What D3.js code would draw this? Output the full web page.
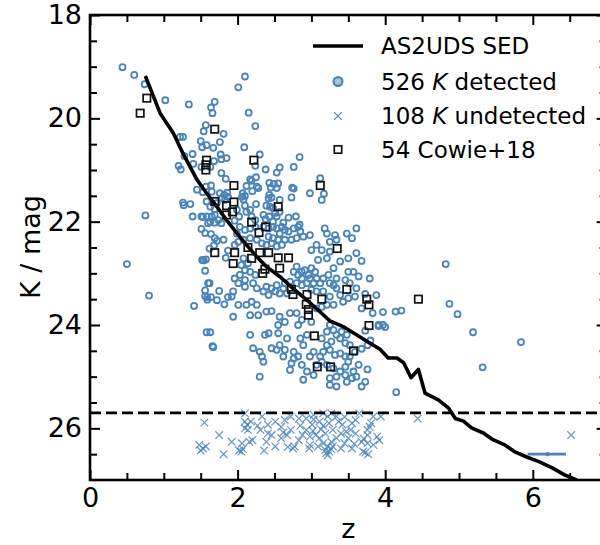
<!DOCTYPE html>
<html>
<head>
<meta charset="utf-8">
<script src="https://cdn.jsdelivr.net/npm/d3@7"></script>
<style>
  body { margin: 0; background: #fff; }
  text { font-family: "DejaVu Sans", sans-serif; fill: #000; }
</style>
</head>
<body>
<svg id="chart" width="600" height="545"></svg>
<script>
// ---- data ----
var xMajor = [0, 2, 4, 6];
var xMinor = [0.5, 1, 1.5, 2.5, 3, 3.5, 4.5, 5, 5.5, 6.5];
var yMajor = [18, 20, 22, 24, 26];
var yMinor = [18.5, 19, 19.5, 20.5, 21, 21.5, 22.5, 23, 23.5, 24.5, 25, 25.5, 26.5];

var kLimit = 25.7;

// AS2UDS SED track
var sedZ = [0.75, 0.95, 1.13, 1.26, 1.45, 1.58, 1.72, 1.85, 1.99, 2.12, 2.26, 2.39, 2.57, 2.75, 2.94, 3.09, 3.25, 3.43, 3.61, 3.79, 3.93, 4.04, 4.16, 4.25, 4.35, 4.45, 4.54, 4.72, 4.86, 4.95, 5.06, 5.17, 5.33, 5.46, 5.62, 5.75, 5.91, 6.09, 6.27, 6.43, 6.59, 6.70];
var sedK = [19.18, 19.90, 20.29, 20.68, 21.19, 21.45, 21.71, 21.97, 22.22, 22.45, 22.68, 22.87, 23.06, 23.29, 23.52, 23.71, 23.92, 24.03, 24.19, 24.35, 24.47, 24.64, 24.64, 24.73, 25.02, 24.86, 25.32, 25.45, 25.61, 25.81, 25.86, 25.99, 26.09, 26.22, 26.32, 26.45, 26.55, 26.65, 26.77, 26.90, 27.00, 27.08];

// K detected [z, K]
var detected = [
  [0.44,19.01],[0.60,19.16],[0.74,19.34],[1.02,19.65],[1.34,19.73],[1.69,19.68],[1.64,19.79],[1.66,19.90],
  [1.57,20.13],[1.54,20.25],[1.81,20.30],[1.76,20.46],[1.22,20.36],[1.26,20.36],[1.50,20.44],[1.58,20.52],
  [1.52,20.56],[1.67,20.57],[1.39,20.69],[1.28,20.73],[1.77,20.70],[1.85,20.77],[1.78,20.79],[1.68,20.83],
  [1.40,20.88],[1.20,20.92],[1.23,20.99],[1.51,20.94],[1.63,20.94],[1.78,21.06],[1.84,21.17],[1.64,21.30],
  [1.57,21.32],[1.45,21.38],[1.53,21.43],[1.65,21.42],[1.76,21.45],[1.82,21.48],[1.86,21.44],[1.87,21.52],
  [1.79,21.54],[1.83,21.58],[1.26,21.63],[1.27,21.68],[1.36,21.66],[1.58,21.61],[1.63,21.71],[1.72,21.64],
  [1.69,21.76],[0.75,21.88],[1.39,21.90],[1.51,21.90],[1.58,21.90],[1.65,21.90],[1.69,21.87],[1.74,21.97],
  [1.63,22.00],[1.69,22.02],[1.78,22.03],
  [2.10,19.19],[2.01,19.40],[2.15,19.89],[2.24,20.15],[2.09,20.56],[2.30,20.70],[2.24,20.92],[2.38,20.99],
  [2.57,20.95],[2.53,21.05],[2.76,20.94],[2.84,20.75],[2.17,21.18],[2.19,21.21],[2.25,21.14],[2.12,21.31],
  [2.28,21.35],[2.26,21.32],[2.20,21.41],[2.43,21.25],[2.49,21.27],[2.55,21.26],[2.45,21.34],[2.53,21.35],
  [2.74,21.34],[2.76,21.36],[3.12,21.16],[2.98,21.45],[3.17,21.46],[3.14,21.58],[2.73,21.53],[2.07,21.45],
  [2.10,21.50],[2.06,21.52],[2.08,21.57],[2.43,21.48],[2.46,21.53],[2.42,21.55],[2.57,21.58],[2.25,21.66],
  [2.39,21.69],[2.44,21.71],[2.48,21.74],[2.10,21.69],[2.17,21.77],[2.12,21.81],[1.99,21.77],[2.57,21.81],
  [2.51,21.83],[2.53,21.90],[2.35,21.87],[2.38,21.95],[2.43,21.90],[2.19,21.90],[2.24,21.97],[2.69,21.92],
  [2.79,21.90],[2.84,22.06],[2.02,21.90],[1.96,21.98],[2.48,22.00],[2.62,22.02],
  [2.03,22.10],[2.10,22.16],[1.99,22.23],[2.17,22.13],[2.24,22.10],[2.35,22.10],[2.42,22.13],[2.48,22.10],
  [2.53,22.13],[2.60,22.10],[2.64,22.16],[2.57,22.23],[2.69,22.19],[2.76,22.13],[2.82,22.10],[2.85,22.19],
  [2.89,22.29],[2.98,22.26],[2.80,22.32],[2.73,22.35],[2.64,22.35],[2.48,22.32],[2.42,22.29],[2.55,22.35],
  [2.46,22.42],[2.60,22.45],[2.53,22.48],[2.39,22.45],[2.33,22.42],[2.26,22.35],[2.17,22.32],[2.08,22.35],
  [2.01,22.39],[1.96,22.45],[3.18,22.13],[3.21,22.23],[3.32,22.26],[3.34,22.35],[3.25,22.39],[3.07,22.45],
  [3.00,22.55],[3.14,22.55],[3.48,22.23],[3.61,22.13],[3.55,22.32],[3.61,22.61],[3.50,22.71],[3.25,22.58],
  [3.21,22.71],[3.09,22.74],[3.39,22.77],[3.30,22.90],[3.23,23.03],[3.16,23.10],[3.12,23.19],[3.05,22.97],
  [3.00,22.90],[2.96,23.03],[2.91,22.94],[2.87,22.97],[2.80,22.87],[2.76,22.97],[2.82,23.03],[2.87,23.10],
  [2.98,23.10],[3.07,23.10],[3.03,23.19],[2.94,23.19],[2.87,23.23],[2.80,23.19],[2.71,23.16],[2.64,23.19],
  [2.62,23.29],[2.53,23.23],[2.46,23.29],[2.39,23.26],[2.51,23.35],[2.57,23.39],[2.67,23.39],[2.42,23.42],
  [2.35,23.35],[2.26,23.29],[2.21,23.19],[2.24,23.03],[2.17,22.97],[2.10,22.94],[2.05,22.84],[2.14,22.81],
  [2.08,22.71],[2.03,23.03],[1.96,23.10],[2.10,23.13],[2.01,23.19],[2.10,23.26],[1.94,23.35],[1.92,23.45],
  [2.01,23.61],[2.12,23.61],[2.19,23.55],[2.26,23.61],[1.94,23.84],[2.17,23.81],[2.28,23.81],[2.39,23.74],
  [2.46,23.73],[2.57,23.84],[2.71,23.77],[2.55,24.00],[2.64,23.94],[2.80,23.77],[2.82,24.00],[2.87,23.90],
  [3.00,23.94],[3.07,23.68],[3.14,23.65],[3.21,23.61],[3.30,23.61],[3.25,23.45],[3.16,23.35],[3.07,23.35],
  [3.00,23.32],[3.34,23.29],[3.30,23.23],[3.39,23.42],[3.43,23.55],[3.50,23.48],[3.59,23.45],[3.61,23.29],
  [3.52,23.19],[3.46,23.13],[3.57,22.97],[3.64,23.06],[3.50,22.97],[3.34,23.10],[3.25,23.19],
  [2.17,24.19],[2.37,24.19],[2.42,24.16],[2.55,24.16],[2.67,24.26],[2.57,24.39],[2.64,24.48],[2.53,24.48],
  [2.46,24.45],[2.21,24.45],[2.30,24.52],[2.33,24.61],[2.35,24.71],[2.62,24.61],[2.76,24.52],[2.76,24.65],
  [2.73,24.74],[2.71,24.87],[2.87,24.77],[2.98,24.61],[3.03,24.52],[3.12,24.61],[3.16,24.52],[2.89,24.39],
  [2.85,24.26],[2.94,24.19],[3.14,24.26],[3.21,24.13],[3.25,24.00],[3.30,24.10],[3.34,24.19],[3.41,24.13],
  [3.48,24.19],[3.39,24.26],[3.46,24.35],[3.52,24.39],[3.27,24.32],[3.21,24.39],[3.25,24.48],[3.32,24.58],
  [3.39,24.55],[3.46,24.61],[3.50,24.71],[3.46,24.81],[3.39,24.90],[3.30,24.84],[3.21,24.77],[3.14,24.71],
  [3.07,24.77],[3.03,24.97],[3.25,25.03],[3.34,25.00],[3.46,24.97],[2.89,25.06],[2.94,24.90],[2.82,24.61],
  [2.30,25.00],[3.48,25.10],[3.55,25.03],[3.25,25.16],[3.34,25.19],[3.59,24.52],[3.52,24.61],[3.64,24.77],
  [3.57,24.90],[3.61,25.00],
  [1.51,22.14],[1.64,22.24],[1.69,22.32],[1.72,22.37],[1.81,22.35],[1.62,22.52],[1.68,22.46],[1.87,22.56],
  [1.84,22.70],[1.54,22.75],[1.57,22.73],[0.50,22.82],[1.56,22.95],[1.62,23.19],[1.56,23.33],[1.75,23.34],
  [1.56,23.44],[1.64,23.46],[1.59,23.51],[1.87,23.46],[1.82,23.60],[0.80,23.43],[1.41,23.63],[1.58,24.14],
  [1.66,24.41],[1.53,21.91],[1.60,22.03],[1.56,22.22],[1.52,22.74],[1.60,23.19],[1.59,23.46],[1.72,23.52],
  [1.63,24.14],[1.67,24.43],
  [3.68,22.76],[4.82,22.82],[3.79,23.10],[3.73,23.40],[3.88,23.42],[3.68,23.68],[3.83,23.77],[3.97,23.75],
  [4.14,23.74],[4.22,23.72],[4.87,23.59],[4.98,23.79],[3.91,24.00],[4.00,24.04],[3.73,24.11],[5.19,24.14],
  [3.80,24.30],[3.76,24.39],[3.68,24.46],[3.76,24.86],[5.32,24.82],[3.73,25.10],[3.68,25.19],[5.84,24.33],
  [4.15,25.30],[3.97,24.00],[3.91,24.02]
];

// K undetected [z, K]
var undetected = [
  [1.55,25.89],[1.48,26.32],[1.53,26.39],[1.50,26.43],[1.75,26.13],[1.81,26.50],[1.92,26.26],[2.02,26.43],
  [2.06,26.29],[2.16,26.26],[2.05,26.45],[2.36,26.43],[2.39,26.26],[2.10,25.87],[2.13,25.93],[2.18,25.87],
  [2.10,26.00],[2.14,26.03],[2.31,26.03],[2.33,25.77],[2.41,25.93],[2.51,25.87],[2.59,25.97],[2.62,26.08],
  [2.67,26.13],[2.72,26.03],[2.75,26.39],[2.77,26.35],[2.83,26.23],[2.88,26.13],[2.93,26.03],[2.97,26.39],
  [2.98,26.32],[3.01,25.93],[3.03,25.83],[3.11,25.87],[3.16,25.95],[3.19,26.10],[3.22,25.77],[3.24,25.90],
  [3.29,26.03],[3.34,25.77],[3.37,25.87],[3.42,25.93],[3.16,26.29],[3.22,26.35],[3.19,26.42],[3.24,26.45],
  [3.22,26.52],[3.27,26.26],[3.34,26.19],[3.40,26.39],[3.45,26.29],[3.50,26.19],[3.53,26.03],[3.55,25.90],
  [3.60,25.84],[3.47,26.06],[3.70,26.45],[3.73,26.47],[3.77,26.50],[3.76,26.03],[3.79,25.97],[3.81,25.90],
  [3.89,26.16],[3.92,26.23],[3.76,26.29],[3.84,25.77],[3.94,25.77],[3.27,25.71],[2.72,25.77],[2.83,25.81],
  [2.93,25.81],[3.03,25.74],[3.16,25.71],[2.51,26.35],[2.59,26.19],[2.46,26.13],[4.44,25.81],[6.52,26.13],
  [2.10,25.71],[3.65,25.71],[3.09,26.35],[3.06,26.13],[2.20,26.23],[2.41,26.10],[2.64,25.84],[2.98,26.16],
  [3.11,26.19],[3.29,26.35],[3.40,26.10],[3.60,26.10],[3.68,26.26],[3.76,26.13],[3.84,26.32],[3.55,26.39],
  [1.57,26.35],[2.07,26.40],[3.20,26.48],[3.27,26.40],[2.68,26.36],[3.02,26.05],[3.45,25.78],[2.27,25.95],
  [3.58,26.30],[2.85,25.95],[3.13,26.02],[3.71,26.20]
];

// Cowie+18 [z, K]
var cowie = [
  [0.77,19.61],[0.68,19.90],[1.69,20.21],[1.58,20.81],[1.57,20.90],[1.57,21.00],[1.69,21.61],[1.85,21.69],
  [1.95,21.30],[2.22,20.81],[1.95,21.62],[1.93,21.81],[2.55,21.71],[2.19,22.01],[2.38,22.10],[2.29,22.21],
  [3.12,21.30],[3.35,22.52],[2.14,22.50],[2.30,22.60],[2.42,22.60],[2.55,22.70],[2.69,22.70],[1.69,22.60],
  [1.96,22.60],[1.94,22.81],[2.19,22.71],[2.57,22.90],[2.37,22.92],[2.34,23.00],[2.73,23.31],[2.75,23.41],
  [2.94,23.41],[3.14,23.50],[3.48,23.31],[3.75,23.50],[3.78,23.61],[4.45,23.50],[2.93,23.60],[2.96,23.70],
  [2.96,23.81],[3.78,24.01],[3.04,24.21],[3.57,24.50],[3.08,24.81],[3.26,24.81],[1.85,21.87]
];

// photometric-z error bar for undetected sources
var errZ = 6.2, errLo = 5.93, errHi = 6.45, errK = 26.5;

var legendLabels = ["AS2UDS SED", "526", "108", "54 Cowie+18"];

// ---- drawing ----
var blue = "#4a84b8";
var svg = d3.select("#chart");
var x = d3.scaleLinear().domain([0, 7]).range([90, 606.6]);
var y = d3.scaleLinear().domain([18, 27]).range([15, 480]);

svg.append("defs").append("clipPath").attr("id", "plotclip")
  .append("rect").attr("x", 90).attr("y", 15).attr("width", 516.6).attr("height", 465);

var plot = svg.append("g").attr("clip-path", "url(#plotclip)");

// detected circles
plot.selectAll(".det").data(detected).enter().append("circle")
  .attr("class", "det")
  .attr("cx", function(d){ return x(d[0]); })
  .attr("cy", function(d){ return y(d[1]); })
  .attr("r", 3)
  .attr("fill", "none")
  .attr("stroke", blue)
  .attr("stroke-width", 1.8);

// undetected crosses
var cs = 3.8;
plot.selectAll(".und").data(undetected).enter().append("path")
  .attr("class", "und")
  .attr("d", function(d){
    var cx = x(d[0]), cy = y(d[1]);
    return "M" + (cx-cs) + "," + (cy-cs) + "L" + (cx+cs) + "," + (cy+cs) +
           "M" + (cx-cs) + "," + (cy+cs) + "L" + (cx+cs) + "," + (cy-cs);
  })
  .attr("stroke", blue)
  .attr("stroke-opacity", 0.85)
  .attr("stroke-width", 1.2)
  .attr("fill", "none");

// K limit
plot.append("line")
  .attr("x1", x(0)).attr("x2", x(7))
  .attr("y1", y(kLimit)).attr("y2", y(kLimit))
  .attr("stroke", "#000").attr("stroke-width", 2.8)
  .attr("stroke-dasharray", "11,5");

// SED track
var line = d3.line().x(function(d){ return x(d[0]); }).y(function(d){ return y(d[1]); });
plot.append("path")
  .datum(d3.zip(sedZ, sedK))
  .attr("d", line)
  .attr("fill", "none")
  .attr("stroke", "#000")
  .attr("stroke-width", 3.6)
  .attr("stroke-linejoin", "round");

// Cowie squares
var sq = 3.7;
plot.selectAll(".cow").data(cowie).enter().append("rect")
  .attr("class", "cow")
  .attr("x", function(d){ return x(d[0]) - sq; })
  .attr("y", function(d){ return y(d[1]) - sq; })
  .attr("width", 2*sq).attr("height", 2*sq)
  .attr("fill", "none")
  .attr("stroke", "#111")
  .attr("stroke-width", 1.7);

// error bar
plot.append("line")
  .attr("x1", x(errLo)).attr("x2", x(errHi))
  .attr("y1", y(errK)).attr("y2", y(errK))
  .attr("stroke", blue).attr("stroke-width", 2.6);
plot.append("circle")
  .attr("cx", x(errZ)).attr("cy", y(errK)).attr("r", 2.2)
  .attr("fill", blue);

// ---- axes (ticks inward on all four sides) ----
function styleAxis(g) {
  g.select(".domain").remove();
  g.selectAll(".tick line").attr("stroke", "#000").attr("stroke-width", 2);
  g.selectAll(".tick text").style("font-size", "27px").attr("fill", "#000");
}
var fmt = d3.format("d");
svg.append("g").attr("transform", "translate(0,480)")
  .call(d3.axisBottom(x).tickValues(xMajor).tickSize(-10).tickPadding(8).tickFormat(fmt)).call(styleAxis);
svg.append("g").attr("transform", "translate(0,480)")
  .call(d3.axisBottom(x).tickValues(xMinor).tickSize(-7).tickFormat("")).call(styleAxis);
svg.append("g").attr("transform", "translate(0,15)")
  .call(d3.axisTop(x).tickValues(xMajor).tickSize(-10).tickFormat("")).call(styleAxis);
svg.append("g").attr("transform", "translate(0,15)")
  .call(d3.axisTop(x).tickValues(xMinor).tickSize(-7).tickFormat("")).call(styleAxis);
svg.append("g").attr("transform", "translate(90,0)")
  .call(d3.axisLeft(y).tickValues(yMajor).tickSize(-10).tickPadding(8).tickFormat(fmt)).call(styleAxis);
svg.append("g").attr("transform", "translate(90,0)")
  .call(d3.axisLeft(y).tickValues(yMinor).tickSize(-7).tickFormat("")).call(styleAxis);
svg.append("g").attr("transform", "translate(606.6,0)")
  .call(d3.axisRight(y).tickValues(yMajor).tickSize(-10).tickFormat("")).call(styleAxis);
svg.append("g").attr("transform", "translate(606.6,0)")
  .call(d3.axisRight(y).tickValues(yMinor).tickSize(-7).tickFormat("")).call(styleAxis);

// frame
svg.append("rect")
  .attr("x", 90).attr("y", 15).attr("width", 516.6).attr("height", 465)
  .attr("fill", "none").attr("stroke", "#000").attr("stroke-width", 2.6);

// axis labels
svg.append("text")
  .attr("x", x(3.5)).attr("y", 538)
  .attr("text-anchor", "middle")
  .style("font-size", "27px")
  .text("z");
svg.append("text")
  .attr("transform", "translate(40,247) rotate(-90)")
  .attr("text-anchor", "middle")
  .style("font-size", "27px")
  .text("K / mag");

// ---- legend ----
var lg = svg.append("g");
var rowY = [46, 81.5, 116, 149.5];
var textX = 381, markX = 338;
lg.append("line").attr("x1", 313).attr("x2", 363).attr("y1", rowY[0]).attr("y2", rowY[0])
  .attr("stroke", "#000").attr("stroke-width", 3.6);
lg.append("circle").attr("cx", markX).attr("cy", rowY[1]).attr("r", 4.4)
  .attr("fill", "#a9c4de").attr("stroke", blue).attr("stroke-width", 2.2);
lg.append("path")
  .attr("d", "M" + (markX-3.8) + "," + (rowY[2]-3.8) + "L" + (markX+3.8) + "," + (rowY[2]+3.8) +
             "M" + (markX-3.8) + "," + (rowY[2]+3.8) + "L" + (markX+3.8) + "," + (rowY[2]-3.8))
  .attr("stroke", blue).attr("stroke-width", 1.2);
lg.append("rect").attr("x", markX-3.7).attr("y", rowY[3]-3.7).attr("width", 7.4).attr("height", 7.4)
  .attr("fill", "none").attr("stroke", "#111").attr("stroke-width", 1.7);

function legendText(i) {
  return lg.append("text").attr("x", textX).attr("y", rowY[i]).attr("dy", "0.36em")
    .style("font-size", "23px");
}
legendText(0).text(legendLabels[0]);
var t1 = legendText(1);
t1.append("tspan").text(legendLabels[1] + " ");
t1.append("tspan").style("font-style", "italic").text("K");
t1.append("tspan").text(" detected");
var t2 = legendText(2);
t2.append("tspan").text(legendLabels[2] + " ");
t2.append("tspan").style("font-style", "italic").text("K");
t2.append("tspan").text(" undetected");
legendText(3).text(legendLabels[3]);
</script>
</body>
</html>
